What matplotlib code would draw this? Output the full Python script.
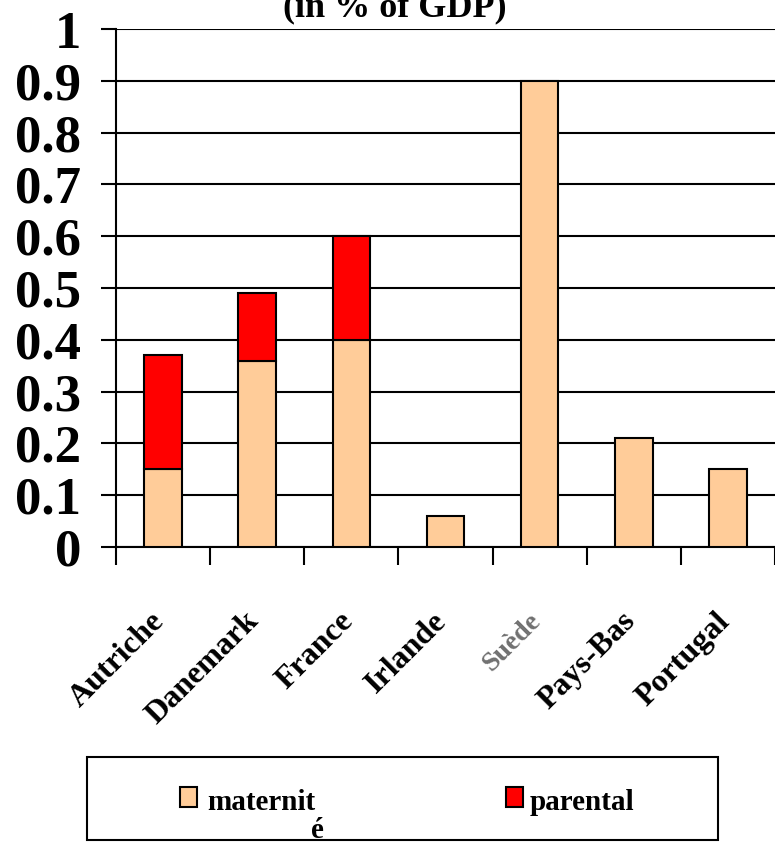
import matplotlib
matplotlib.use('Agg')
import matplotlib.pyplot as plt
from matplotlib.patches import Rectangle

countries=['Autriche','Danemark','France','Irlande','Suède','Pays-Bas','Portugal']
maternite=[0.15,0.36,0.40,0.06,0.90,0.21,0.15]
parental=[0.22,0.13,0.20,0.0,0.0,0.0,0.0]
yticks=[0,0.1,0.2,0.3,0.4,0.5,0.6,0.7,0.8,0.9,1]
yticklabels=['0','0.1','0.2','0.3','0.4','0.5','0.6','0.7','0.8','0.9','1']

plt.rcParams['font.family']=['Liberation Serif','DejaVu Serif']
plt.rcParams['font.weight']='bold'

c_mat='#FFCC99'
c_par='#FF0000'

fig=plt.figure(figsize=(7.75,8.42),dpi=100)
ax=fig.add_axes([116/775,1-547/842,1-116/775,(547-29)/842])

x=range(len(countries))
ax.bar(x,maternite,0.4,color=c_mat,edgecolor='black',linewidth=1.5,zorder=3)
px=[i for i in x if parental[i]>0]
ax.bar(px,[parental[i] for i in px],0.4,bottom=[maternite[i] for i in px],
       color=c_par,edgecolor='black',linewidth=1.5,zorder=3)

ax.set_xlim(-0.5,len(countries)-0.5)
ax.set_ylim(0,1)
ax.set_yticks(yticks)
ax.set_yticklabels(yticklabels,fontsize=38,fontweight='bold')
ax.yaxis.grid(True,color='black',linewidth=1.5,zorder=1)
ax.tick_params(axis='y',length=11,width=1.5,pad=14)
ax.set_xticks([i-0.5 for i in range(len(countries)+1)])
ax.set_xticklabels([])
ax.tick_params(axis='x',direction='out',length=13,width=1.5)
for s in ['top','right']:
    ax.spines[s].set_visible(False)
ax.spines['left'].set_linewidth(1.5)
ax.spines['bottom'].set_linewidth(1.5)
ax.set_axisbelow(True)

# rotated country names under each bar
for i,name in enumerate(countries):
    if name=='Suède':
        col,fs='#707070',20
    else:
        col,fs='black',23
    ax.text(i-0.03,-0.135,name,rotation=45,rotation_mode='anchor',ha='right',va='center',
            fontsize=fs,fontweight='bold',color=col,clip_on=False)

fig.text(395/775,1-16/842,'(in % of GDP)',ha='center',va='baseline',fontsize=26,fontweight='bold')

# legend box
fig.patches.append(Rectangle((87/775,1-840/842),(718-87)/775,(840-757)/842,transform=fig.transFigure,
                             fill=False,edgecolor='black',linewidth=1.5))
fig.patches.append(Rectangle((180/775,1-807/842),17/775,20/842,transform=fig.transFigure,
                             facecolor=c_mat,edgecolor='black',linewidth=1.5))
fig.patches.append(Rectangle((506/775,1-807/842),17/775,20/842,transform=fig.transFigure,
                             facecolor=c_par,edgecolor='black',linewidth=1.5))
fig.text(207/775,1-810/842,'maternit',ha='left',va='baseline',fontsize=21,fontweight='bold')
fig.text(317/775,1-838/842,'é',ha='center',va='baseline',fontsize=21,fontweight='bold')
fig.text(530/775,1-810/842,'parental',ha='left',va='baseline',fontsize=21,fontweight='bold')

fig.savefig('out.png',dpi=100)
